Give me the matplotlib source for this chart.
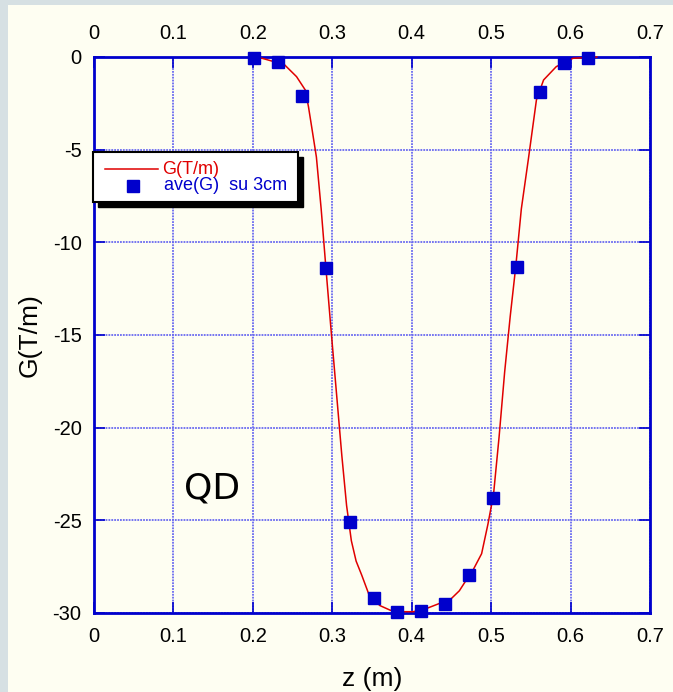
import matplotlib
matplotlib.use("Agg")
import matplotlib.pyplot as plt
from matplotlib.patches import Rectangle
from matplotlib.lines import Line2D

# Data: field gradient curve
z_curve = [0.195, 0.21, 0.224, 0.238, 0.255, 0.266, 0.270, 0.274, 0.280, 0.286, 0.292,
           0.298, 0.305, 0.312, 0.318, 0.324, 0.330, 0.337, 0.347, 0.360, 0.373, 0.389,
           0.402, 0.419, 0.434, 0.448, 0.460, 0.469, 0.477, 0.488, 0.496, 0.503, 0.510,
           0.517, 0.524, 0.531, 0.538, 0.547, 0.557, 0.566, 0.582, 0.603, 0.633]
g_curve = [0.0, -0.05, -0.22, -0.34, -1.06, -1.78, -2.68, -3.76, -5.4, -8.2, -11.4,
           -14.5, -18.0, -21.5, -24.2, -26.1, -27.2, -27.95, -29.1, -29.6, -29.85, -29.93,
           -29.93, -29.75, -29.5, -29.3, -28.8, -28.2, -27.7, -26.8, -25.2, -23.6, -20.5,
           -17.0, -14.0, -11.3, -8.2, -5.47, -2.32, -1.24, -0.52, -0.07, 0.0]

# Averaged gradient over 3 cm
z_avg = [0.202, 0.232, 0.262, 0.292, 0.322, 0.352, 0.382, 0.412, 0.442, 0.472,
         0.502, 0.532, 0.562, 0.592, 0.622]
g_avg = [-0.05, -0.27, -2.1, -11.4, -25.1, -29.2, -29.95, -29.9, -29.5, -27.95,
         -23.8, -11.33, -1.89, -0.32, -0.05]

x_ticks = [0, 0.1, 0.2, 0.3, 0.4, 0.5, 0.6, 0.7]
x_ticklabels = ["0", "0.1", "0.2", "0.3", "0.4", "0.5", "0.6", "0.7"]
y_ticks = [0, -5, -10, -15, -20, -25, -30]
y_ticklabels = ["0", "-5", "-10", "-15", "-20", "-25", "-30"]

plt.rcParams['font.family'] = ['Liberation Sans', 'DejaVu Sans']

W, H = 673, 692
fig = plt.figure(figsize=(W / 100, H / 100), dpi=100)
fig.patch.set_facecolor('#d6e0e3')
# ivory inner panel
fig.patches.append(Rectangle((8 / W, 0), 1 - 8 / W, 1 - 5 / H, transform=fig.transFigure,
                             facecolor='#fefef2', edgecolor='none', zorder=-10))

ax = fig.add_axes([94 / W, 1 - 613 / H, (650 - 94) / W, (613 - 57) / H])
ax.set_facecolor('#fefef2')
ax.set_xlim(0, 0.7)
ax.set_ylim(-30, 0)

blue = '#0000cc'
for s in ax.spines.values():
    s.set_color(blue)
    s.set_linewidth(2)

ax.grid(True, color='#6a6af0', linewidth=1.3, linestyle=(0, (1, 0.6)))
ax.set_axisbelow(True)

ax.set_xticks(x_ticks)
ax.set_xticklabels(x_ticklabels)
ax.set_yticks(y_ticks)
ax.set_yticklabels(y_ticklabels)
ax.tick_params(axis='both', direction='in', length=8, width=1.2, color=blue,
               labelsize=14.5, top=True, right=True, labeltop=True)
ax.tick_params(axis='x', pad=10)
ax.tick_params(axis='y', pad=9)

ax.plot(z_curve, g_curve, color='#e00000', linewidth=1.1, zorder=3, clip_on=False)
ax.plot(z_avg, g_avg, linestyle='none', marker='s', markersize=9, color='#0000cc',
        zorder=4, clip_on=False)

ax.set_xlabel('z (m)', fontsize=19, labelpad=15)
ax.set_ylabel('G(T/m)', fontsize=19, labelpad=8)

ax.text(0.113, -23.8, 'QD', fontsize=26, family=['DejaVu Sans'], color='black',
        ha='left', va='baseline')

# legend box with shadow
lx0, ly0, lx1, ly1 = 93, 152, 298, 202
def fx(p):
    return p / W
def fy(p):
    return 1 - p / H
fig.patches.append(Rectangle((fx(lx0 + 5), fy(ly1 + 5)), fx(lx1 - lx0), (ly1 - ly0) / H,
                             transform=fig.transFigure, facecolor='black',
                             edgecolor='black', zorder=5))
fig.patches.append(Rectangle((fx(lx0), fy(ly1)), fx(lx1 - lx0), (ly1 - ly0) / H,
                             transform=fig.transFigure, facecolor='white',
                             edgecolor='black', linewidth=1.5, zorder=6))
fig.lines.append(Line2D([fx(105), fx(158)], [fy(169), fy(169)], transform=fig.transFigure,
                        color='#e00000', linewidth=1.1, zorder=7))
fig.lines.append(Line2D([fx(133)], [fy(186)], transform=fig.transFigure, marker='s',
                        markersize=8, color='#0000cc', linestyle='none', zorder=7))
fig.text(fx(162), fy(174), 'G(T/m)', color='#e00000', fontsize=13, va='baseline',
         ha='left', zorder=8)
fig.text(fx(164), fy(190), 'ave(G)  su 3cm', color='#0000cc', fontsize=13, va='baseline',
         ha='left', zorder=8)

fig.savefig('out.png', dpi=100, facecolor=fig.get_facecolor())
